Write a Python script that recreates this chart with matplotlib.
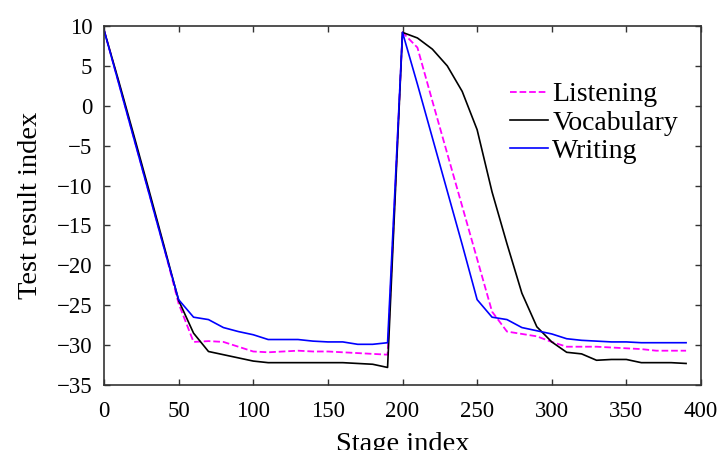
import numpy as np
import matplotlib
matplotlib.use("Agg")
import matplotlib.pyplot as plt

plt.rcParams['font.family'] = ['Liberation Serif', 'DejaVu Serif']

# stage index, sampled every 10 stages
stage = np.arange(0, 400, 10)

listening = [9.5, 2.8, -4.0, -10.8, -17.6, -24.8, -29.6, -29.5, -29.6, -30.2,
             -30.8, -30.9, -30.8, -30.7, -30.8, -30.8, -30.9, -31.0, -31.1, -31.2,
             9.2, 7.3, 0.6, -6.0, -12.6, -19.2, -25.8, -28.3, -28.6, -28.9,
             -29.6, -30.2, -30.2, -30.2, -30.3, -30.4, -30.5, -30.7, -30.7, -30.7]

vocabulary = [9.5, 3.0, -3.7, -10.5, -17.4, -24.4, -28.5, -30.8, -31.2, -31.6,
              -32.0, -32.2, -32.2, -32.2, -32.2, -32.2, -32.2, -32.3, -32.4, -32.8,
              9.2, 8.5, 7.1, 5.0, 1.8, -3.0, -10.8, -17.3, -23.5, -27.7,
              -29.6, -30.9, -31.1, -31.9, -31.8, -31.8, -32.2, -32.2, -32.2, -32.3]

writing = [9.5, 2.7, -4.1, -10.9, -17.7, -24.3, -26.5, -26.8, -27.8, -28.3,
           -28.7, -29.3, -29.3, -29.3, -29.5, -29.6, -29.6, -29.9, -29.9, -29.7,
           9.2, 2.7, -4.0, -10.7, -17.4, -24.3, -26.5, -26.8, -27.8, -28.2,
           -28.6, -29.2, -29.4, -29.5, -29.6, -29.6, -29.7, -29.7, -29.7, -29.7]

xticks = np.arange(0, 401, 50)
yticks = np.arange(-35, 11, 5)

fig = plt.figure(figsize=(7.18, 4.5), dpi=100)
ax = fig.add_axes([104/718, 65/450, 597/718, 359/450])

ax.plot(stage, listening, color='#ff00ff', linestyle='--', lw=1.3, label='Listening')
ax.plot(stage, vocabulary, color='black', lw=1.2, label='Vocabulary')
ax.plot(stage, writing, color='#0000ff', lw=1.2, label='Writing')

ax.set_xlim(0, 400)
ax.set_ylim(-35, 10)
ax.set_xticks(xticks)
ax.set_yticks(yticks)

for s in ax.spines.values():
    s.set_color('#333333')
    s.set_linewidth(1.2)
ax.tick_params(direction='in', length=4.5, width=1.0, color='#333333',
               top=True, right=True, labelsize=16.5)
ax.tick_params(axis='x', pad=11.5)
ax.tick_params(axis='y', pad=8.5)

# x label sits low and is partly cut by the bottom edge, as in the original
ax.set_xlabel('Stage index', fontsize=20.5, labelpad=7)
ax.set_ylabel('Test result index', fontsize=20.5, labelpad=10)

ax.legend(loc='upper right', bbox_to_anchor=(0.98, 0.875), frameon=False,
          fontsize=20, handlelength=1.37, handletextpad=0.14, labelspacing=0.1,
          borderaxespad=0.0)

fig.savefig('out.png', dpi=100)
